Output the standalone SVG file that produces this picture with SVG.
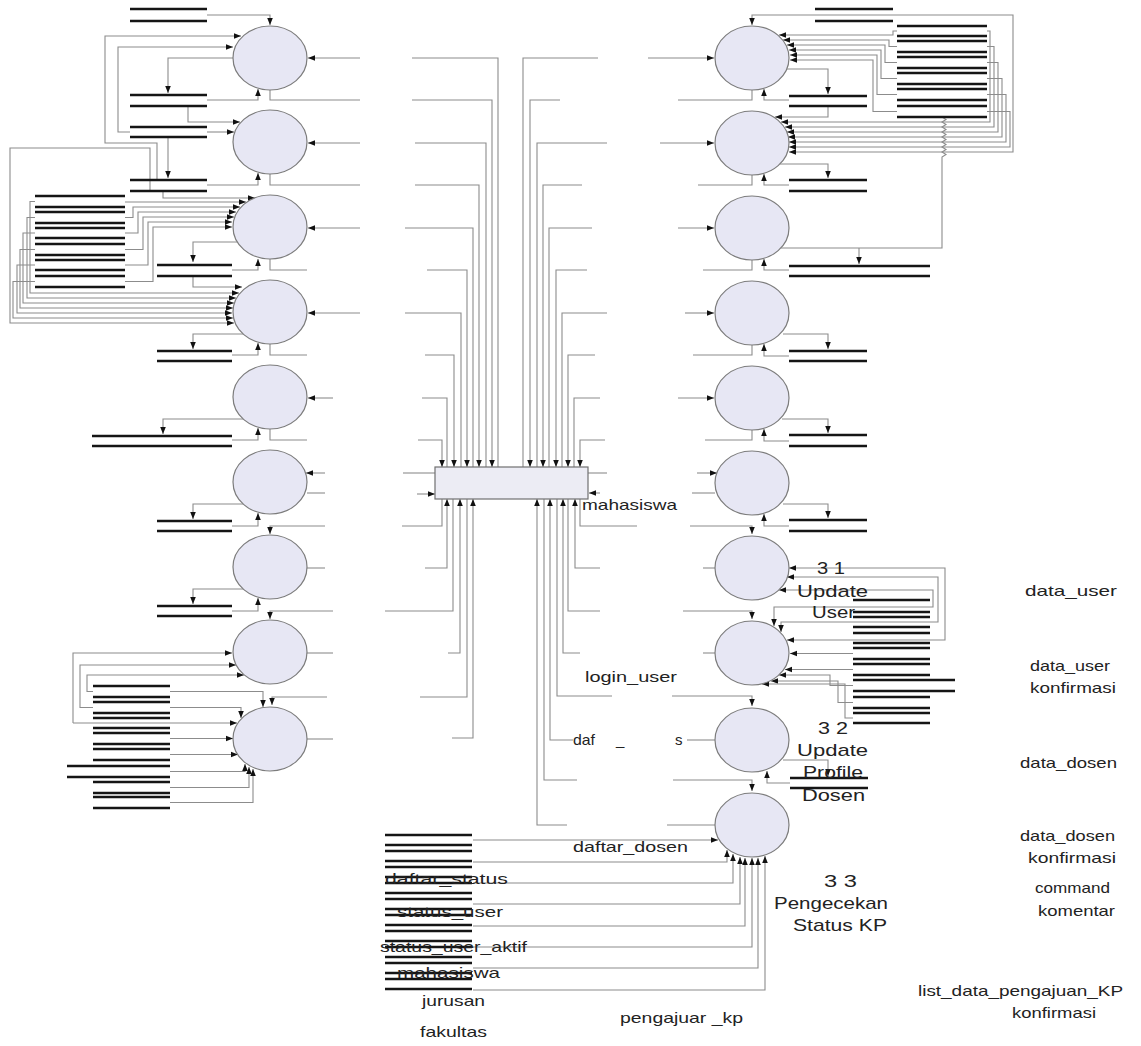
<svg xmlns="http://www.w3.org/2000/svg" width="1141" height="1046" viewBox="0 0 1141 1046">
<style>
.c{fill:#e7e7f4;stroke:#7c7c7c;stroke-width:1.2}
.f{fill:none;stroke:#8c8c8c;stroke-width:1.1}
.a{marker-end:url(#ah)}
.b{marker-start:url(#as)}
.s{fill:none;stroke:#151515;stroke-width:2.4}
.r{fill:#ececf4;stroke:#707070;stroke-width:1.2}
text{font-family:"Liberation Sans",Arial,sans-serif;font-size:15px;fill:#222}
.big{font-size:17px}
</style>
<defs>
<marker id="ah" viewBox="0 0 10 10" refX="10" refY="5" markerWidth="7" markerHeight="7" orient="auto" markerUnits="userSpaceOnUse"><path d="M0,1 L10,5 L0,9 z" fill="#111"/></marker>
<marker id="as" viewBox="0 0 10 10" refX="10" refY="5" markerWidth="7" markerHeight="7" orient="auto-start-reverse" markerUnits="userSpaceOnUse"><path d="M0,1 L10,5 L0,9 z" fill="#111"/></marker>
</defs>
<rect width="1141" height="1046" fill="#ffffff"/>

<g id="connectors">
<path class="f a" d="M207,15H270V25"/>
<path class="f a" d="M157,180V143H105V36H241"/>
<path class="f a" d="M130,132H118V47H233"/>
<path class="f a" d="M207,132H234"/>
<path class="f a" d="M233,58H168V93"/>
<path class="f a" d="M207,100H258V89"/>
<path class="f a" d="M188,106V122H240"/>
<path class="f a" d="M168,137V178"/>
<path class="f a" d="M207,185H258V173"/>
<path class="f a" d="M163,191V198H255"/>
<path class="f a" d="M150,191V148H10V323H234"/>
<path class="f a" d="M125,202H246"/>
<path class="f a" d="M125,217.5H133V207H240"/>
<path class="f a" d="M125,233H138V212H236"/>
<path class="f a" d="M125,249.5H143V217H234"/>
<path class="f a" d="M125,265H148V222H232"/>
<path class="f a" d="M125,281.5H153V227H232"/>
<path class="f a" d="M35,201.5H30V293H239"/>
<path class="f a" d="M35,217.5H27V298H236"/>
<path class="f a" d="M35,233H23V303H234"/>
<path class="f a" d="M35,249.5H20V308H233"/>
<path class="f a" d="M35,265H17V313H232"/>
<path class="f a" d="M35,281.5H13V318H233"/>
<path class="f a" d="M360,58H308"/>
<path class="f" d="M270,90V100H360"/>
<path class="f a" d="M360,143H308"/>
<path class="f" d="M270,174V185H360"/>
<path class="f a" d="M360,228H308"/>
<path class="f a" d="M237,242H193V262"/>
<path class="f a" d="M232,270H258V259"/>
<path class="f" d="M270,259V270H307"/>
<path class="f a" d="M193,276V287H242"/>
<path class="f a" d="M360,313H308"/>
<path class="f a" d="M243,334H193V349"/>
<path class="f a" d="M232,355H258V343"/>
<path class="f" d="M270,344V355H307"/>
<path class="f a" d="M333,398H308"/>
<path class="f a" d="M243,419H163V434"/>
<path class="f a" d="M232,440H258V428"/>
<path class="f" d="M270,429V440H307"/>
<path class="f a" d="M325,473H306"/>
<path class="f" d="M307,493H325"/>
<path class="f a" d="M243,504H193V519"/>
<path class="f a" d="M232,526H258V513"/>
<path class="f a" d="M325,526H270V534"/>
<path class="f" d="M307,568H325"/>
<path class="f a" d="M243,589H193V604"/>
<path class="f a" d="M232,611H258V598"/>
<path class="f a" d="M333,611H270V619"/>
<path class="f" d="M307,653H333"/>
<path class="f a" d="M327,697H272V705"/>
<path class="f" d="M307,739H333"/>
<path class="f a" d="M73,723V653H232"/>
<path class="f a" d="M93,707.5H80V665H236"/>
<path class="f a" d="M93,691.5H87V675H244"/>
<path class="f a" d="M73,723H237"/>
<path class="f a" d="M170,691.5H263V707"/>
<path class="f a" d="M170,707.5H241V718"/>
<path class="f a" d="M170,738.5H233"/>
<path class="f a" d="M170,754.5H238"/>
<path class="f a" d="M170,771.5H245V764"/>
<path class="f a" d="M170,787.5H249V767"/>
<path class="f a" d="M170,802.5H253V769"/>
<path class="f" d="M412,58H498V467"/>
<path class="f a" d="M412,100H492V467"/>
<path class="f" d="M415,143H486V467"/>
<path class="f a" d="M415,185H479V467"/>
<path class="f" d="M405,228H473V467"/>
<path class="f a" d="M427,270H467V467"/>
<path class="f" d="M405,313H461V467"/>
<path class="f a" d="M425,355H454V467"/>
<path class="f" d="M422,398H447V467"/>
<path class="f a" d="M418,440H442V467"/>
<path class="f" d="M403,473H435"/>
<path class="f a" d="M417,494H435"/>
<path class="f" d="M402,526H442V499"/>
<path class="f a" d="M425,568H447V499"/>
<path class="f" d="M385,611H453V499"/>
<path class="f a" d="M448,653H460V499"/>
<path class="f" d="M420,697H467V499"/>
<path class="f a" d="M452,738H473V499"/>
<path class="f" d="M598,58H523V467"/>
<path class="f a" d="M560,100H530V467"/>
<path class="f" d="M607,143H537V467"/>
<path class="f a" d="M582,185H543V467"/>
<path class="f" d="M592,228H549V467"/>
<path class="f a" d="M587,270H556V467"/>
<path class="f" d="M607,313H562V467"/>
<path class="f a" d="M595,355H568V467"/>
<path class="f" d="M600,398H574V467"/>
<path class="f a" d="M605,440H580V467"/>
<path class="f" d="M588,473H607"/>
<path class="f a" d="M600,493H589"/>
<path class="f" d="M637,526H580V499"/>
<path class="f a" d="M600,568H575V499"/>
<path class="f" d="M600,611H568V499"/>
<path class="f a" d="M580,653H563V499"/>
<path class="f" d="M612,696H557V499"/>
<path class="f a" d="M573,740H550V499"/>
<path class="f" d="M577,780H544V499"/>
<path class="f a" d="M567,825H537V499"/>
<path class="f a" d="M648,58H714"/>
<path class="f" d="M752,90V100H678"/>
<path class="f a" d="M660,143H714"/>
<path class="f" d="M752,175V185H698"/>
<path class="f a" d="M678,228H714"/>
<path class="f" d="M752,260V270H703"/>
<path class="f a" d="M685,313H714"/>
<path class="f" d="M752,345V355H693"/>
<path class="f a" d="M678,398H714"/>
<path class="f" d="M752,430V440H705"/>
<path class="f a" d="M697,473H717"/>
<path class="f" d="M692,493H715"/>
<path class="f a" d="M690,526H752V534"/>
<path class="f" d="M703,568H715"/>
<path class="f a" d="M683,611H752V619"/>
<path class="f" d="M703,653H715"/>
<path class="f a" d="M672,696H752V706"/>
<path class="f" d="M687,740H715"/>
<path class="f a" d="M673,780H752V791"/>
<path class="f" d="M667,825H715"/>
<path class="f a" d="M789,100H764V89"/>
<path class="f a" d="M787,69H828V94"/>
<path class="f a b" d="M752,25V15H1013V152H789"/>
<path class="f a" d="M828,106V117H775"/>
<path class="f a" d="M789,185H764V174"/>
<path class="f a" d="M780,164H828V178"/>
<path class="f a" d="M789,270H764V259"/>
<path class="f" d="M781,248H942V157l4,-2.5l-4,-2.5l4,-2.5l-4,-2.5l4,-2.5l-4,-2.5l4,-2.5l-4,-2.5l4,-2.5l-4,-2.5l4,-2.5l-4,-2.5l4,-2.5l-4,-2.5l4,-2.5l-4,-2.5V117"/>
<path class="f a" d="M859,248V264"/>
<path class="f a" d="M789,356H764V344"/>
<path class="f a" d="M783,334H828V349"/>
<path class="f a" d="M789,441H764V429"/>
<path class="f a" d="M782,419H828V433"/>
<path class="f a" d="M789,526H764V514"/>
<path class="f a" d="M783,504H828V518"/>
<path class="f a" d="M897,31H893V35H779"/>
<path class="f a" d="M897,46.5H889V40H783"/>
<path class="f a" d="M897,62.5H885V45H787"/>
<path class="f a" d="M897,78.5H881V50H789"/>
<path class="f a" d="M897,94.5H877V55H790"/>
<path class="f a" d="M897,111.5H873V60H790"/>
<path class="f a" d="M987,31H990V122H781"/>
<path class="f a" d="M987,46.5H994V127H785"/>
<path class="f a" d="M987,62.5H998V132H787"/>
<path class="f a" d="M987,78.5H1002V137H788"/>
<path class="f a" d="M987,94.5H1006V142H789"/>
<path class="f a" d="M987,111.5H1010V147H789"/>
<path class="f a b" d="M779,590H933V607H774V626"/>
<path class="f a b" d="M787,577H938V622H781V632"/>
<path class="f a b" d="M789,568H945V640H787"/>
<path class="f a" d="M853,653.5H790"/>
<path class="f a" d="M853,669.5H785"/>
<path class="f a" d="M853,685.5H830V675H779"/>
<path class="f a" d="M853,702.5H838V681H771"/>
<path class="f a" d="M853,718H845V684H762"/>
<path class="f a" d="M783,760H828V776"/>
<path class="f a" d="M790,783H767V771"/>
<path class="f a" d="M473,840H718"/>
<path class="f a" d="M473,862H727V850"/>
<path class="f a" d="M473,883H733V854"/>
<path class="f a" d="M473,904H740V857"/>
<path class="f a" d="M473,926H745V858"/>
<path class="f a" d="M473,947H752V858"/>
<path class="f a" d="M473,968H758V858"/>
<path class="f a" d="M473,990H765V856"/>
</g>

<g id="L1"><ellipse class="c" cx="270" cy="58" rx="37" ry="32"/></g>
<g id="L2"><ellipse class="c" cx="270" cy="142" rx="37" ry="32"/></g>
<g id="L3"><ellipse class="c" cx="270" cy="227" rx="37" ry="32"/></g>
<g id="L4"><ellipse class="c" cx="270" cy="312" rx="37" ry="32"/></g>
<g id="L5"><ellipse class="c" cx="270" cy="397" rx="37" ry="32"/></g>
<g id="L6"><ellipse class="c" cx="270" cy="482" rx="37" ry="32"/></g>
<g id="L7"><ellipse class="c" cx="270" cy="567" rx="37" ry="32"/></g>
<g id="L8"><ellipse class="c" cx="270" cy="652" rx="37" ry="32"/></g>
<g id="L9"><ellipse class="c" cx="270" cy="739" rx="37" ry="32"/></g>
<g id="R1"><ellipse class="c" cx="752" cy="58" rx="37" ry="32"/></g>
<g id="R2"><ellipse class="c" cx="752" cy="143" rx="37" ry="32"/></g>
<g id="R3"><ellipse class="c" cx="752" cy="228" rx="37" ry="32"/></g>
<g id="R4"><ellipse class="c" cx="752" cy="313" rx="37" ry="32"/></g>
<g id="R5"><ellipse class="c" cx="752" cy="398" rx="37" ry="32"/></g>
<g id="R6"><ellipse class="c" cx="752" cy="483" rx="37" ry="32"/></g>
<g id="R7"><ellipse class="c" cx="752" cy="568" rx="37" ry="32"/></g>
<g id="R8"><ellipse class="c" cx="752" cy="653" rx="37" ry="32"/></g>
<g id="R9"><ellipse class="c" cx="752" cy="740" rx="37" ry="32"/></g>
<g id="R10"><ellipse class="c" cx="752" cy="825" rx="37" ry="32"/></g>

<g id="mahasiswa-entity"><rect class="r" x="435" y="467" width="153" height="32"/></g>

<g id="S1"><path class="s" d="M130,9H207M130,21H207"/></g>
<g id="S2"><path class="s" d="M130,95H207M130,106H207"/></g>
<g id="S3"><path class="s" d="M130,127H207M130,137H207"/></g>
<g id="S4"><path class="s" d="M130,180H207M130,191H207"/></g>
<g id="stackA"><path class="s" d="M35,196H125M35,207H125M35,212H125M35,223H125M35,228H125M35,238H125M35,244H125M35,255H125M35,260H125M35,270H125M35,276H125M35,287H125"/></g>
<g id="S5"><path class="s" d="M157,265H232M157,276H232"/></g>
<g id="S6"><path class="s" d="M157,351H232M157,361H232"/></g>
<g id="S7"><path class="s" d="M92,436H232M92,446H232"/></g>
<g id="S8"><path class="s" d="M157,521H232M157,531H232"/></g>
<g id="S9"><path class="s" d="M157,606H232M157,616H232"/></g>
<g id="stackB"><path class="s" d="M93,686H170M93,697H170M93,702H170M93,713H170M93,718H170M93,728H170M93,733H170M93,744H170M93,749H170M93,760H170M67,766H170M67,777H170M93,782H170M93,793H170M93,797H170M93,808H170"/></g>
<g id="T1"><path class="s" d="M815,9H893M815,21H893"/></g>
<g id="stackC"><path class="s" d="M897,26H987M897,36H987M897,41H987M897,52H987M897,57H987M897,68H987M897,73H987M897,84H987M897,89H987M897,100H987M897,106H987M897,117H987"/></g>
<g id="T2"><path class="s" d="M789,96H867M789,106H867"/></g>
<g id="T3"><path class="s" d="M789,180H867M789,191H867"/></g>
<g id="T4"><path class="s" d="M789,266H930M789,276H930"/></g>
<g id="T5"><path class="s" d="M789,351H867M789,361H867"/></g>
<g id="T6"><path class="s" d="M789,435H867M789,446H867"/></g>
<g id="T7"><path class="s" d="M789,520H867M789,531H867"/></g>
<g id="stackD"><path class="s" d="M853,600H930M853,612H930M853,617H930M853,627H930M853,633H930M853,643H930M853,648H930M853,659H930M853,664H930M853,675H930M853,680H955M853,691H955M853,697H930M853,708H930M853,713H930M853,723H930"/></g>
<g id="T8"><path class="s" d="M790,778H868M790,788H868"/></g>
<g id="stackE"><path class="s" d="M385,835H472M385,845H472M385,851H472M385,861H472M385,867H472M385,877H472M385,883H472M385,893H472M385,899H472M385,909H472M385,915H472M385,925H472M385,931H472M385,941H472M385,947H472M385,957H472M385,963H472M385,973H472M385,979H472M385,989H472"/></g>

<g id="labels">
<text x="582" y="510" textLength="95" lengthAdjust="spacingAndGlyphs">mahasiswa</text>
<text x="585" y="682" textLength="92" lengthAdjust="spacingAndGlyphs">login_user</text>
<text x="573" y="745" textLength="22" lengthAdjust="spacingAndGlyphs">daf</text>
<text x="616" y="745">_</text>
<text x="675" y="745">s</text>
<text x="573" y="852" textLength="115" lengthAdjust="spacingAndGlyphs">daftar_dosen</text>
<text x="385" y="884" textLength="123" lengthAdjust="spacingAndGlyphs">daftar_status</text>
<text x="397" y="917" textLength="106" lengthAdjust="spacingAndGlyphs">status_user</text>
<text x="380" y="952" textLength="147" lengthAdjust="spacingAndGlyphs">status_user_aktif</text>
<text x="397" y="978" textLength="103" lengthAdjust="spacingAndGlyphs">mahasiswa</text>
<text x="422" y="1006" textLength="63" lengthAdjust="spacingAndGlyphs">jurusan</text>
<text x="420" y="1037" textLength="67" lengthAdjust="spacingAndGlyphs">fakultas</text>
<text x="620" y="1023" textLength="123" lengthAdjust="spacingAndGlyphs">pengajuar _kp</text>
<text class="big" x="817" y="574" textLength="28" lengthAdjust="spacingAndGlyphs">3 1</text>
<text class="big" x="797" y="597" textLength="71" lengthAdjust="spacingAndGlyphs">Update</text>
<text class="big" x="812" y="618" textLength="43" lengthAdjust="spacingAndGlyphs">User</text>
<text class="big" x="818" y="734" textLength="30" lengthAdjust="spacingAndGlyphs">3 2</text>
<text class="big" x="797" y="756" textLength="71" lengthAdjust="spacingAndGlyphs">Update</text>
<text class="big" x="803" y="778" textLength="60" lengthAdjust="spacingAndGlyphs">Profile</text>
<text class="big" x="802" y="801" textLength="63" lengthAdjust="spacingAndGlyphs">Dosen</text>
<text class="big" x="824" y="887" textLength="33" lengthAdjust="spacingAndGlyphs">3 3</text>
<text class="big" x="774" y="909" textLength="114" lengthAdjust="spacingAndGlyphs">Pengecekan</text>
<text class="big" x="793" y="931" textLength="94" lengthAdjust="spacingAndGlyphs">Status KP</text>
<text x="1025" y="596" textLength="92" lengthAdjust="spacingAndGlyphs">data_user</text>
<text x="1030" y="671" textLength="80" lengthAdjust="spacingAndGlyphs">data_user</text>
<text x="1030" y="693" textLength="86" lengthAdjust="spacingAndGlyphs">konfirmasi</text>
<text x="1020" y="768" textLength="97" lengthAdjust="spacingAndGlyphs">data_dosen</text>
<text x="1020" y="841" textLength="95" lengthAdjust="spacingAndGlyphs">data_dosen</text>
<text x="1028" y="863" textLength="88" lengthAdjust="spacingAndGlyphs">konfirmasi</text>
<text x="1035" y="893" textLength="75" lengthAdjust="spacingAndGlyphs">command</text>
<text x="1038" y="916" textLength="77" lengthAdjust="spacingAndGlyphs">komentar</text>
<text x="918" y="996" textLength="205" lengthAdjust="spacingAndGlyphs">list_data_pengajuan_KP</text>
<text x="1012" y="1018" textLength="84" lengthAdjust="spacingAndGlyphs">konfirmasi</text>
</g>
</svg>
